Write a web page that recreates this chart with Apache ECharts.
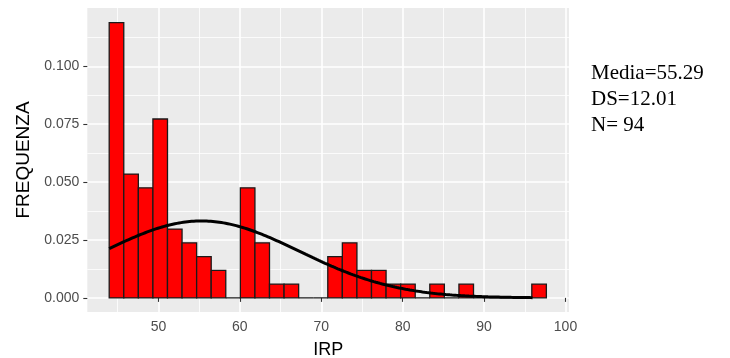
<!DOCTYPE html>
<html>
<head>
<meta charset="utf-8">
<script src="https://cdn.jsdelivr.net/npm/echarts@6/dist/echarts.min.js"></script>
<style>
  html, body { margin: 0; padding: 0; background: #ffffff; }
  #chart { width: 730px; height: 358px; }
</style>
</head>
<body>
<div id="chart"></div>
<script>
// IRP histogram (30 bins, density scale) with the fitted normal curve
const binStart = 43.95;
const binWidth = 1.79;
const binCounts = [20, 9, 8, 13, 5, 4, 3, 2, 0, 8, 4, 1, 1, 0, 0, 3, 4, 2, 2, 1, 1, 0, 1, 0, 1, 0, 0, 0, 0, 1];
const media = 55.29;
const ds = 12.01;
const n = 94;
const curveRange = [43.95, 95.95];
const xMajorTicks = [50, 60, 70, 80, 90, 100];
const xMinorTicks = [45, 55, 65, 75, 85, 95];
const yMajorTicks = [0, 0.025, 0.05, 0.075, 0.1];
const yMinorTicks = [0.0125, 0.0375, 0.0625, 0.0875, 0.1125];
const xRange = [41.26, 100.43];
const yRange = [-0.0061, 0.1252];

// histogram rectangles: [left edge, right edge, density]
const bars = binCounts.map((c, i) => [
  binStart + i * binWidth,
  binStart + (i + 1) * binWidth,
  c / (n * binWidth)
]);

// normal density with the stated mean and standard deviation
function dnorm(x) {
  const z = (x - media) / ds;
  return Math.exp(-0.5 * z * z) / (ds * Math.sqrt(2 * Math.PI));
}
const curve = [];
const steps = 200;
for (let i = 0; i <= steps; i++) {
  const x = curveRange[0] + (curveRange[1] - curveRange[0]) * i / steps;
  curve.push([x, dnorm(x)]);
}

const sansFont = '"Liberation Sans", Arial, Helvetica, sans-serif';

const chart = echarts.init(document.getElementById('chart'), null, { renderer: 'canvas' });
chart.setOption({
  animation: false,
  backgroundColor: '#ffffff',
  grid: {
    left: 87.3, top: 8, width: 481.7, height: 304,
    outerBoundsMode: 'none',
    containLabel: false,
    show: true, backgroundColor: '#EBEBEB', borderWidth: 0
  },
  xAxis: [
    {
      // minor grid lines
      type: 'value', gridIndex: 0, position: 'bottom',
      min: xRange[0], max: xRange[1],
      axisLine: { show: false },
      axisTick: { show: false, customValues: xMinorTicks },
      axisLabel: { show: false },
      splitLine: { show: true, lineStyle: { color: '#ffffff', width: 0.8 } }
    },
    {
      type: 'value', gridIndex: 0, position: 'bottom',
      min: xRange[0], max: xRange[1],
      axisLine: { show: false },
      axisTick: { show: true, customValues: xMajorTicks, length: 4, lineStyle: { color: '#333333', width: 1.1 } },
      axisLabel: { customValues: xMajorTicks, color: '#4D4D4D', fontSize: 14, fontFamily: sansFont, margin: 8 },
      splitLine: { show: true, lineStyle: { color: '#ffffff', width: 1.6 } },
      name: 'IRP', nameLocation: 'middle', nameGap: 29,
      nameTextStyle: { color: '#000000', fontSize: 18, fontFamily: sansFont }
    }
  ],
  yAxis: [
    {
      type: 'value', gridIndex: 0, position: 'left',
      min: yRange[0], max: yRange[1],
      axisLine: { show: false },
      axisTick: { show: false, customValues: yMinorTicks },
      axisLabel: { show: false },
      splitLine: { show: true, lineStyle: { color: '#ffffff', width: 0.8 } }
    },
    {
      type: 'value', gridIndex: 0, position: 'left',
      min: yRange[0], max: yRange[1],
      axisLine: { show: false },
      axisTick: { show: true, customValues: yMajorTicks, length: 4, lineStyle: { color: '#333333', width: 1.1 } },
      axisLabel: {
        customValues: yMajorTicks, color: '#4D4D4D', fontSize: 14, fontFamily: sansFont, margin: 8,
        formatter: v => v.toFixed(3)
      },
      splitLine: { show: true, lineStyle: { color: '#ffffff', width: 1.6 } },
      name: 'FREQUENZA', nameLocation: 'middle', nameGap: 47,
      nameTextStyle: { color: '#000000', fontSize: 19, fontFamily: sansFont }
    }
  ],
  series: [
    {
      type: 'custom',
      xAxisIndex: 1, yAxisIndex: 1,
      data: bars,
      encode: { x: [0, 1], y: 2 },
      renderItem: function (params, api) {
        const a = api.coord([api.value(0), 0]);
        const b = api.coord([api.value(1), api.value(2)]);
        return {
          type: 'rect',
          shape: { x: a[0], y: b[1], width: b[0] - a[0], height: a[1] - b[1] },
          style: { fill: '#FF0000', stroke: '#1a1a1a', lineWidth: 1.3 }
        };
      },
      z: 3
    },
    {
      type: 'line',
      xAxisIndex: 1, yAxisIndex: 1,
      data: curve,
      showSymbol: false,
      smooth: false,
      lineStyle: { color: '#000000', width: 3 },
      z: 4
    }
  ],
  graphic: [
    {
      type: 'text',
      left: 591, top: 60,
      style: {
        text: 'Media=' + media.toFixed(2) + '\nDS=' + ds.toFixed(2) + '\nN= ' + n,
        font: '21px "Liberation Serif", "Times New Roman", serif',
        fill: '#000000',
        lineHeight: 26
      }
    }
  ]
});
</script>
</body>
</html>
